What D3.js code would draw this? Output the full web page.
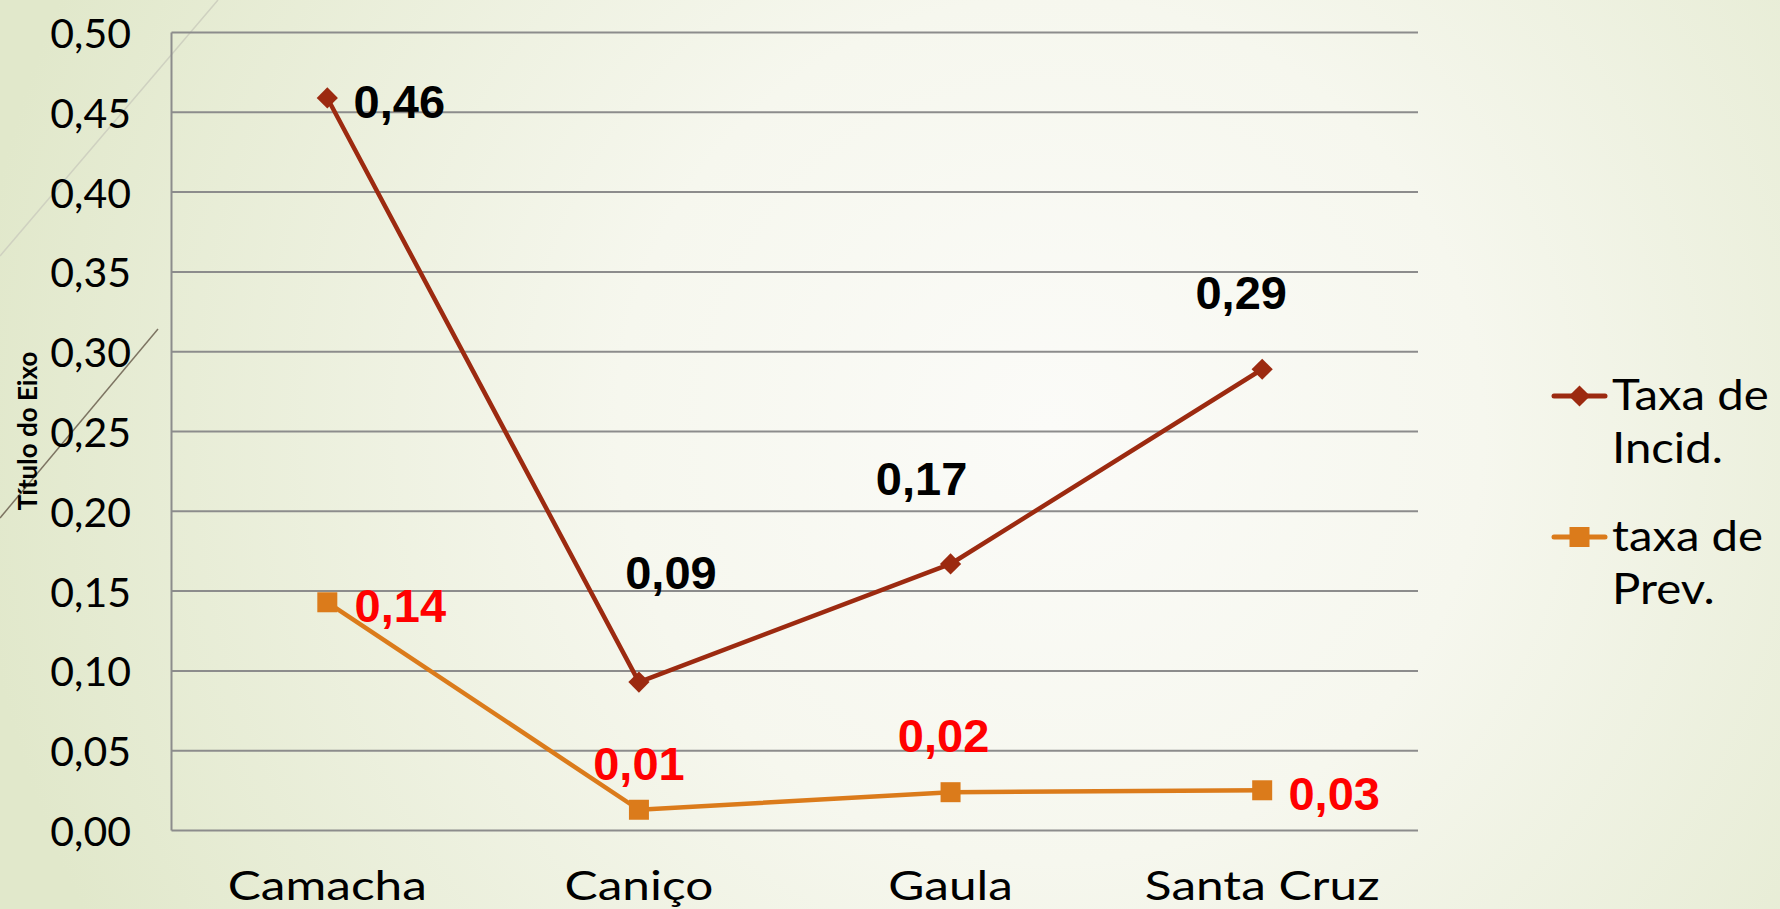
<!DOCTYPE html>
<html>
<head>
<meta charset="utf-8">
<script src="https://cdn.jsdelivr.net/npm/d3@7"></script>
<style>
  html, body { margin: 0; padding: 0; overflow: hidden; }
  svg { display: block; }
</style>
</head>
<body>
<div id="vis"></div>
<script>
// chart data
const categories = ["Camacha", "Caniço", "Gaula", "Santa Cruz"];
const incidValues = [0.459, 0.093, 0.167, 0.289];
const prevValues = [0.143, 0.013, 0.024, 0.0252];
const seriesNames = [["Taxa de", "Incid."], ["taxa de", "Prev."]];
const yTicks = [0, 0.05, 0.1, 0.15, 0.2, 0.25, 0.3, 0.35, 0.4, 0.45, 0.5];
const axisTitle = "Título do Eixo";

// label placement relative to each point (manual placement, as in the slide)
const incidLabelShift = [[72, 20], [32, -93], [-29, -69], [-21, -60]];
const prevLabelShift = [[73, 20], [0, -30], [-7, -40], [72, 20]];

const width = 1780;
const height = 909;
const margin = { left: 171.5, right: 1418, top: 32.5, bottom: 830.5 };

const locale = d3.formatLocale({ decimal: ",", thousands: ".", grouping: [3], currency: ["", "€"] });
const fmt = locale.format(".2f");

const svg = d3.select("#vis")
    .append("svg")
    .attr("width", width)
    .attr("height", height);

// background
const defs = svg.append("defs");
const grad = defs.append("radialGradient")
    .attr("id", "bg")
    .attr("gradientUnits", "userSpaceOnUse")
    .attr("cx", 1050).attr("cy", 430).attr("r", 1080);
grad.append("stop").attr("offset", 0).attr("stop-color", "#fbfbf8");
grad.append("stop").attr("offset", 0.4).attr("stop-color", "#f6f7ee");
grad.append("stop").attr("offset", 1).attr("stop-color", "#e1e8cb");

svg.append("rect")
    .attr("width", width)
    .attr("height", height)
    .attr("fill", "url(#bg)");

// decorative slide lines, top left
svg.append("line")
    .attr("x1", 218).attr("y1", 0).attr("x2", 0).attr("y2", 256)
    .attr("stroke", "#cfd1c0").attr("stroke-width", 1.5);
svg.append("line")
    .attr("x1", 158).attr("y1", 329).attr("x2", 0).attr("y2", 518)
    .attr("stroke", "#7d7462").attr("stroke-width", 1.5);

const x = d3.scalePoint()
    .domain(categories)
    .range([margin.left, margin.right])
    .padding(0.5);

const y = d3.scaleLinear()
    .domain([0, 0.5])
    .range([margin.bottom, margin.top]);

// gridlines
svg.append("g")
    .selectAll("line")
    .data(yTicks)
    .enter()
    .append("line")
    .attr("x1", margin.left)
    .attr("x2", margin.right)
    .attr("y1", (d) => y(d))
    .attr("y2", (d) => y(d))
    .attr("stroke", "#8c8c8c")
    .attr("stroke-width", 2);

svg.append("line")
    .attr("x1", margin.left).attr("x2", margin.left)
    .attr("y1", y(0.5)).attr("y2", y(0))
    .attr("stroke", "#8c8c8c")
    .attr("stroke-width", 2);

// y tick labels
svg.append("g")
    .selectAll("text")
    .data(yTicks)
    .enter()
    .append("text")
    .attr("x", 131)
    .attr("y", (d) => y(d))
    .attr("text-anchor", "end")
    .attr("dominant-baseline", "central")
    .style("font-family", "Lato")
    .style("font-size", "41px")
    .attr("fill", "#000")
    .text((d) => fmt(d));

// category labels
svg.append("g")
    .selectAll("text")
    .data(categories)
    .enter()
    .append("text")
    .attr("transform", (d) => "translate(" + x(d) + ",900) scale(1.24,1)")
    .attr("text-anchor", "middle")
    .style("font-family", "Lato")
    .style("font-size", "40px")
    .attr("fill", "#000")
    .text((d) => d);

// axis title
svg.append("text")
    .attr("transform", "translate(27,431) rotate(-90)")
    .attr("text-anchor", "middle")
    .attr("dominant-baseline", "central")
    .style("font-family", "Lato")
    .style("font-weight", "bold")
    .style("font-size", "26px")
    .attr("fill", "#000")
    .text(axisTitle);

const series = [
    { values: incidValues, color: "#9c2a10", symbol: "diamond", labelColor: "#000", shift: incidLabelShift },
    { values: prevValues, color: "#db7b1b", symbol: "square", labelColor: "#ff0000", shift: prevLabelShift }
];

const line = d3.line()
    .x((d, i) => x(categories[i]))
    .y((d) => y(d));

function marker(sel, type, color) {
    if (type === "diamond") {
        sel.attr("d", d3.symbol(d3.symbolSquare, 225)())
            .attr("fill", color);
        return "rotate(45)";
    }
    sel.attr("d", d3.symbol(d3.symbolSquare, 400)())
        .attr("fill", color);
    return "";
}

series.forEach((s) => {
    svg.append("path")
        .datum(s.values)
        .attr("d", line)
        .attr("fill", "none")
        .attr("stroke", s.color)
        .attr("stroke-width", 4.5)
        .attr("stroke-linejoin", "round");

    svg.append("g")
        .selectAll("path")
        .data(s.values)
        .enter()
        .append("path")
        .each(function (d, i) {
            const rot = marker(d3.select(this), s.symbol, s.color);
            d3.select(this).attr("transform",
                "translate(" + x(categories[i]) + "," + y(d) + ") " + rot);
        });

    svg.append("g")
        .selectAll("text")
        .data(s.values)
        .enter()
        .append("text")
        .attr("x", (d, i) => x(categories[i]) + s.shift[i][0])
        .attr("y", (d, i) => y(d) + s.shift[i][1])
        .attr("text-anchor", "middle")
        .style("font-family", "Liberation Sans, Arial")
        .style("font-weight", "bold")
        .style("font-size", "47px")
        .attr("fill", s.labelColor)
        .text((d) => fmt(d));
});

// legend
const legendY = [396, 537];
series.forEach((s, k) => {
    const g = svg.append("g");
    g.append("line")
        .attr("x1", 1554).attr("x2", 1605)
        .attr("y1", legendY[k]).attr("y2", legendY[k])
        .attr("stroke", s.color)
        .attr("stroke-width", 5)
        .attr("stroke-linecap", "round");
    const m = g.append("path");
    const rot = marker(m, s.symbol, s.color);
    m.attr("transform", "translate(1579.5," + legendY[k] + ") " + rot);

    g.selectAll("text")
        .data(seriesNames[k])
        .enter()
        .append("text")
        .attr("transform", (d, j) => "translate(1612," + (legendY[k] + 14 + j * 53) + ") scale(1.1,1)")
        .style("font-family", "Lato")
        .style("font-size", "43px")
        .attr("fill", "#000")
        .text((d) => d);
});
</script>
</body>
</html>
